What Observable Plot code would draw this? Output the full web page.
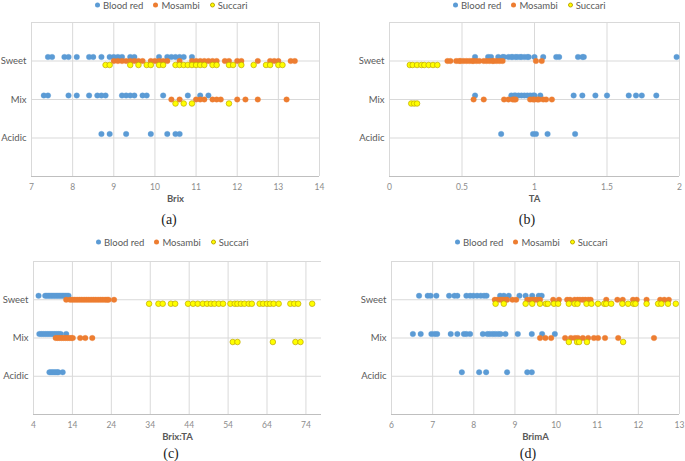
<!DOCTYPE html>
<html><head><meta charset="utf-8">
<script src="https://cdn.jsdelivr.net/npm/d3@7"></script>
<script src="https://cdn.jsdelivr.net/npm/@observablehq/plot@0.6"></script>
<style>
body{margin:0;background:#fff;}
#root{position:relative;width:685px;height:461px;overflow:hidden;font-family:Lato,"Open Sans",sans-serif;}
.panel{position:absolute;}
.legend{position:absolute;display:flex;align-items:center;font-size:9.5px;color:#595959;white-space:nowrap;transform:translateY(-50%);}
.legend .item{display:flex;align-items:center;margin-right:10px;}
.legend .sw{display:inline-block;width:5px;height:5px;border-radius:50%;margin-right:3px;box-sizing:border-box;}
.cap{position:absolute;font-family:"Liberation Serif","Times New Roman",serif;font-size:14px;color:#222;transform:translate(-50%,-50%);}
svg [aria-label="x-axis tick label"] text, svg [aria-label="x-axis tick label"]{fill:#8c8c8c;}
svg [aria-label="x-axis label"] text, svg [aria-label="x-axis label"]{font-weight:bold;fill:#595959;font-size:9.5px;}
svg [aria-label="y-axis tick label"] text, svg [aria-label="y-axis tick label"]{fill:#595959;font-size:9.5px;}
</style></head>
<body><div id="root"></div>
<script>
// ---- categories & series ----
const varieties = ["Blood red", "Mosambi", "Succari"];
const categories = ["Sweet", "Mix", "Acidic"];
const colors = ["#5B9BD5", "#ED7D31", "#FFFF00"];

// (a) Brix
const a_blood_sweet = [7.4, 7.5, 7.8, 7.9, 8.1, 8.4, 8.5, 8.7, 8.9, 9.0, 9.1, 9.2, 9.4, 9.5, 10.1, 10.3, 10.4, 10.5, 10.6, 10.7, 10.9];
const a_mosambi_sweet = [9.0, 9.1, 9.2, 9.3, 9.4, 9.5, 9.6, 9.7, 9.9, 10.0, 10.1, 10.2, 10.3, 10.6, 10.9, 11.0, 11.1, 11.2, 11.3, 11.4, 11.5, 11.7, 11.8, 12.0, 12.1, 12.5, 12.8, 12.9, 13.0, 13.3, 13.4];
const a_succari_sweet = [8.8, 8.9, 9.4, 9.6, 9.8, 9.9, 10.1, 10.2, 10.5, 10.6, 10.7, 10.8, 10.9, 11.0, 11.1, 11.2, 11.4, 11.5, 11.8, 11.9, 12.1, 12.4, 12.7, 12.8, 13.0, 13.1];
const a_blood_mix = [7.3, 7.4, 7.9, 8.1, 8.4, 8.6, 8.7, 8.8, 9.2, 9.3, 9.4, 9.5, 9.7, 9.8, 10.2, 10.8, 11.1, 11.3];
const a_mosambi_mix = [10.4, 10.6, 11.0, 11.1, 11.2, 11.4, 11.5, 11.6, 12.0, 12.2, 12.5, 13.2];
const a_succari_mix = [10.5, 10.7, 10.9, 11.8];
const a_blood_acidic = [8.7, 8.9, 9.3, 9.9, 10.3, 10.5, 10.6];
const a_ticks = [7, 8, 9, 10, 11, 12, 13, 14];

// (b) TA
const b_blood_sweet = [0.59, 0.68, 0.70, 0.75, 0.78, 0.79, 0.82, 0.84, 0.85, 0.87, 0.88, 0.90, 0.91, 0.93, 0.95, 0.96, 1.00, 1.06, 1.15, 1.17, 1.30, 1.33, 1.34, 1.98];
const b_mosambi_sweet = [0.40, 0.42, 0.46, 0.48, 0.49, 0.51, 0.53, 0.55, 0.57, 0.58, 0.60, 0.62, 0.65, 0.67, 0.69, 0.71, 0.72, 0.74, 0.76, 0.78, 1.01, 1.05];
const b_succari_sweet = [0.14, 0.16, 0.19, 0.22, 0.24, 0.27, 0.30, 0.33];
const b_blood_mix = [0.59, 0.84, 0.86, 0.87, 0.89, 0.91, 0.93, 0.95, 0.97, 0.99, 1.00, 1.04, 1.27, 1.33, 1.42, 1.50, 1.65, 1.70, 1.74, 1.84];
const b_mosambi_mix = [0.58, 0.65, 0.79, 0.82, 0.85, 0.86, 0.87, 0.97, 0.99, 1.00, 1.02, 1.03, 1.06, 1.08, 1.12];
const b_succari_mix = [0.15, 0.17, 0.19];
const b_blood_acidic = [0.77, 0.99, 1.01, 1.09, 1.28];
const b_ticks = [0, 0.5, 1, 1.5, 2];

// (c) Brix:TA
const c_blood_sweet = [5.3, 7.0, 7.4, 7.8, 8.2, 8.6, 9.0, 9.4, 9.8, 10.2, 10.6, 11.0, 11.4, 11.8, 12.2, 12.6, 13.0];
const c_mosambi_sweet = [12.4, 13.4, 14.0, 14.6, 15.2, 15.8, 16.4, 17.0, 17.6, 18.2, 18.8, 19.4, 20.0, 20.6, 21.2, 21.8, 22.4, 22.9, 23.3, 24.7];
const c_succari_sweet = [33.7, 36.1, 37.2, 39.3, 40.4, 43.7, 45.0, 46.2, 47.5, 48.6, 49.6, 50.5, 51.6, 52.7, 54.6, 55.7, 56.4, 57.3, 58.2, 59.3, 60.1, 62.1, 63.0, 64.0, 64.8, 65.7, 67.0, 70.0, 71.0, 72.0, 75.6];
const c_blood_mix = [5.5, 6.0, 6.5, 7.0, 7.5, 8.0, 8.5, 9.0, 9.5, 10.0, 10.5, 11.0, 12.4];
const c_mosambi_mix = [9.7, 10.2, 10.7, 11.2, 11.7, 12.2, 12.7, 13.2, 13.7, 14.1, 16.0, 17.3, 19.1];
const c_succari_mix = [55.2, 56.4, 65.5, 71.3, 72.6];
const c_blood_acidic = [8.1, 8.5, 8.9, 9.3, 9.7, 10.1, 10.4, 11.5];
const c_ticks = [4, 14, 24, 34, 44, 54, 64, 74];

// (d) BrimA
const d_blood_sweet = [6.67, 6.88, 6.95, 7.09, 7.40, 7.53, 7.60, 7.82, 7.91, 7.99, 8.08, 8.17, 8.25, 8.31, 8.64, 8.73, 8.85, 9.11, 9.26, 9.42, 9.58, 9.65];
const d_mosambi_sweet = [8.51, 8.57, 8.64, 8.70, 8.77, 8.81, 8.94, 9.03, 9.30, 9.37, 9.43, 9.50, 9.56, 9.61, 9.93, 10.07, 10.27, 10.34, 10.45, 10.52, 10.58, 10.65, 10.71, 10.78, 10.84, 11.22, 11.49, 11.62, 11.87, 11.96, 12.20, 12.53, 12.63, 12.74];
const d_succari_sweet = [8.53, 8.73, 9.26, 9.42, 9.61, 9.75, 9.80, 9.95, 10.05, 10.31, 10.45, 10.52, 10.74, 10.86, 11.02, 11.17, 11.22, 11.34, 11.61, 11.75, 11.88, 11.93, 12.20, 12.48, 12.56, 12.72, 12.91];
const d_blood_mix = [6.52, 6.71, 6.97, 7.05, 7.11, 7.44, 7.60, 7.76, 7.82, 7.91, 8.22, 8.33, 8.39, 8.46, 8.52, 8.59, 8.65, 8.77, 9.07, 9.41, 9.66, 9.97];
const d_mosambi_mix = [9.61, 9.74, 9.88, 10.22, 10.36, 10.46, 10.53, 10.65, 10.78, 10.92, 11.02, 11.19, 11.51, 12.38];
const d_succari_mix = [10.31, 10.51, 10.56, 10.75, 11.63];
const d_blood_acidic = [7.71, 8.13, 8.30, 8.81, 9.30, 9.41];
const d_ticks = [6, 7, 8, 9, 10, 11, 12, 13];

// ---- build ----
const level = {Sweet: 3, Mix: 2, Acidic: 1};
function rows(vals, variety, cat) { return vals.map(v => ({x: v, variety, cat, y: level[cat]})); }

const panels = [
  {cap: "(a)", label: "Brix", ticks: a_ticks, domain: [7, 14],
   series: [rows(a_blood_sweet, "Blood red", "Sweet").concat(rows(a_blood_mix, "Blood red", "Mix"), rows(a_blood_acidic, "Blood red", "Acidic")),
            rows(a_mosambi_sweet, "Mosambi", "Sweet").concat(rows(a_mosambi_mix, "Mosambi", "Mix")),
            rows(a_succari_sweet, "Succari", "Sweet").concat(rows(a_succari_mix, "Succari", "Mix"))],
   left: 0, top: 0, width: 340, height: 210, mL: 31, mR: 21, mT: 22, mB: 34,
   legX: 95, legY: 5, capX: 169, capY: 220},
  {cap: "(b)", label: "TA", ticks: b_ticks, domain: [0, 2],
   series: [rows(b_blood_sweet, "Blood red", "Sweet").concat(rows(b_blood_mix, "Blood red", "Mix"), rows(b_blood_acidic, "Blood red", "Acidic")),
            rows(b_mosambi_sweet, "Mosambi", "Sweet").concat(rows(b_mosambi_mix, "Mosambi", "Mix")),
            rows(b_succari_sweet, "Succari", "Sweet").concat(rows(b_succari_mix, "Succari", "Mix"))],
   left: 340, top: 0, width: 345, height: 210, mL: 49, mR: 6, mT: 22, mB: 34,
   legX: 453, legY: 5, capX: 527, capY: 220},
  {cap: "(c)", label: "Brix:TA", ticks: c_ticks, domain: [4, 78],
   series: [rows(c_blood_sweet, "Blood red", "Sweet").concat(rows(c_blood_mix, "Blood red", "Mix"), rows(c_blood_acidic, "Blood red", "Acidic")),
            rows(c_mosambi_sweet, "Mosambi", "Sweet").concat(rows(c_mosambi_mix, "Mosambi", "Mix")),
            rows(c_succari_sweet, "Succari", "Sweet").concat(rows(c_succari_mix, "Succari", "Mix"))],
   left: 0, top: 230, width: 340, height: 220, mL: 33, mR: 19, mT: 31, mB: 36,
   legX: 96, legY: 242, capX: 171, capY: 454},
  {cap: "(d)", label: "BrimA", ticks: d_ticks, domain: [6, 13],
   series: [rows(d_blood_sweet, "Blood red", "Sweet").concat(rows(d_blood_mix, "Blood red", "Mix"), rows(d_blood_acidic, "Blood red", "Acidic")),
            rows(d_mosambi_sweet, "Mosambi", "Sweet").concat(rows(d_mosambi_mix, "Mosambi", "Mix")),
            rows(d_succari_sweet, "Succari", "Sweet").concat(rows(d_succari_mix, "Succari", "Mix"))],
   left: 340, top: 230, width: 345, height: 220, mL: 51, mR: 6, mT: 31, mB: 36,
   legX: 455, legY: 242, capX: 528, capY: 454}
];

const root = document.getElementById("root");
const dyBy = [-4, 0, 4];
const strokeBy = ["#5B9BD5", "#ED7D31", "#BFA800"];

for (const p of panels) {
  const chart = Plot.plot({
    width: p.width, height: p.height,
    marginLeft: p.mL, marginRight: p.mR, marginTop: p.mT, marginBottom: p.mB,
    style: {fontFamily: "Lato, 'Open Sans', sans-serif", fontSize: "8.5px", background: "transparent", overflow: "visible"},
    x: {domain: p.domain, ticks: p.ticks, tickSize: 0, tickPadding: 7, label: p.label, labelAnchor: "center", labelOffset: 25, labelArrow: "none", tickFormat: d => String(d)},
    y: {domain: [0, 4], ticks: [1, 2, 3], tickFormat: d => categories[3 - d], tickSize: 0, tickPadding: 5, label: null},
    marks: [
      Plot.ruleX(p.ticks, {stroke: "#d9d9d9", strokeWidth: 1}),
      Plot.ruleY([1, 2, 3, 4], {stroke: "#d9d9d9", strokeWidth: 1}),
      Plot.ruleY([0], {stroke: "#bfbfbf", strokeWidth: 1}),
      ...p.series.map((s, i) => Plot.dot(s, {x: "x", y: "y", r: 2.8, dy: dyBy[i], fill: colors[i], stroke: strokeBy[i], strokeWidth: i === 2 ? 0.7 : 0.3, fillOpacity: 1}))
    ]
  });
  const holder = document.createElement("div");
  holder.className = "panel";
  holder.style.left = p.left + "px";
  holder.style.top = p.top + "px";
  holder.appendChild(chart);
  root.appendChild(holder);

  const leg = document.createElement("div");
  leg.className = "legend";
  leg.style.left = p.legX + "px";
  leg.style.top = p.legY + "px";
  varieties.forEach((v, i) => {
    const it = document.createElement("div");
    it.className = "item";
    const sw = document.createElement("span");
    sw.className = "sw";
    sw.style.background = colors[i];
    if (i === 2) sw.style.border = "0.6px solid #BFA800";
    it.appendChild(sw);
    const t = document.createElement("span");
    t.textContent = v;
    it.appendChild(t);
    leg.appendChild(it);
  });
  root.appendChild(leg);

  const cap = document.createElement("div");
  cap.className = "cap";
  cap.style.left = p.capX + "px";
  cap.style.top = p.capY + "px";
  cap.textContent = p.cap;
  root.appendChild(cap);
}
</script>
</body></html>
